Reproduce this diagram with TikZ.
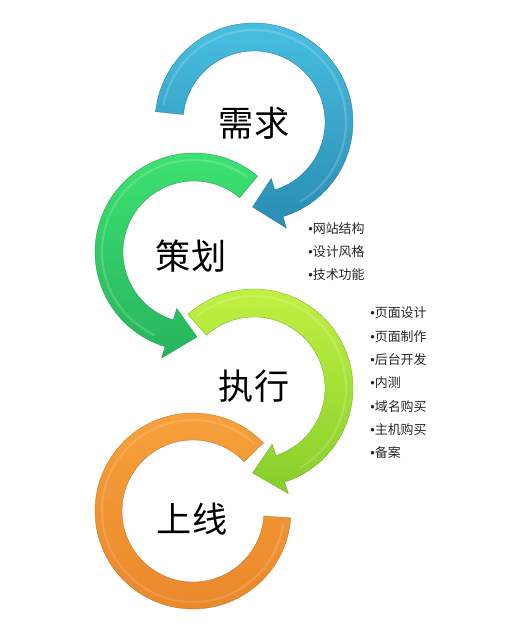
\documentclass[tikz,border=0pt]{standalone}
\usepackage{fontspec}
\setmainfont{Noto Sans CJK SC}
\newfontfamily\bulletfont{Liberation Sans}
\usepackage{xcolor}
\definecolor{needLight}{HTML}{48C0E2}
\definecolor{needDark}{HTML}{2A8CB2}
\definecolor{planLight}{HTML}{3EE472}
\definecolor{planDark}{HTML}{27B45C}
\definecolor{execLight}{HTML}{C4F242}
\definecolor{execDark}{HTML}{86CE2C}
\definecolor{liveLight}{HTML}{F7A23C}
\definecolor{liveDark}{HTML}{E9862A}
\tikzset{
    title/.style={font=\fontsize{25}{30}\selectfont, text=black},
    item/.style={font=\fontsize{9.2}{11}\selectfont, text=black!85, anchor=west, inner sep=0pt}
}

\begin{document}
\begin{tikzpicture}[x=0.025cm, y=0.025cm]
    \useasboundingbox (0,0) rectangle (531,630);

    % Blue ring (clockwise, head at the bottom)
    \begin{scope}[shift={(254,508)}]
        \shade[top color=needLight, bottom color=needDark, draw=needDark!80!black, line width=0.2pt]
            (174:71) -- (174:99) arc[start angle=174, end angle=-73, radius=99]
            -- (-73:111) -- (-91:85) -- (-73:59) -- (-73:71)
            arc[start angle=-73, end angle=174, radius=71] -- cycle;
        \draw[white, opacity=0.18, line width=1.5pt] (170:92) arc[start angle=170, end angle=-60, radius=92];
    \end{scope}

    % Green ring (counter-clockwise, head at the bottom)
    \begin{scope}[shift={(194,378)}]
        \shade[top color=planLight, bottom color=planDark, draw=planDark!80!black, line width=0.2pt]
            (50:71) -- (50:99) arc[start angle=50, end angle=253, radius=99]
            -- (253:111) -- (272:85) -- (253:59) -- (253:71)
            arc[start angle=253, end angle=50, radius=71] -- cycle;
        \draw[white, opacity=0.18, line width=1.5pt] (55:92) arc[start angle=55, end angle=245, radius=92];
    \end{scope}

    % Yellow-green ring (clockwise, head at the bottom)
    \begin{scope}[shift={(254,242)}]
        \shade[top color=execLight, bottom color=execDark, draw=execDark!80!black, line width=0.2pt]
            (132:71) -- (132:99) arc[start angle=132, end angle=-72, radius=99]
            -- (-72:111) -- (-91:85) -- (-72:59) -- (-72:71)
            arc[start angle=-72, end angle=132, radius=71] -- cycle;
        \draw[white, opacity=0.18, line width=1.5pt] (128:92) arc[start angle=128, end angle=-60, radius=92];
    \end{scope}

    % Orange ring (open on the upper right)
    \begin{scope}[shift={(193,119)}]
        \shade[top color=liveLight, bottom color=liveDark, draw=liveDark!80!black, line width=0.2pt]
            (44:71) -- (44:98) arc[start angle=44, end angle=356, radius=98]
            -- (356:71) arc[start angle=356, end angle=44, radius=71] -- cycle;
        \draw[white, opacity=0.15, line width=1.5pt] (48:91) arc[start angle=48, end angle=352, radius=91];
    \end{scope}

    % Stage titles
    \node[title] (need) at (254,507) {需求};
    \node[title] (plan) at (191,374) {策划};
    \node[title] (exec) at (254,244) {执行};
    \node[title] (live) at (192,111) {上线};

    % Planning items
    \foreach \y/\t in {401/网站结构, 378/设计风格, 355/技术功能} {
        \node[item] (plan\y) at (308,\y) {{\bulletfont •}\t};
    }

    % Execution items
    \foreach \y/\t in {317/页面设计, 293/页面制作, 270/后台开发, 247/内测, 223/域名购买, 200/主机购买, 177/备案} {
        \node[item] (exec\y) at (370,\y) {{\bulletfont •}\t};
    }
\end{tikzpicture}
\end{document}
